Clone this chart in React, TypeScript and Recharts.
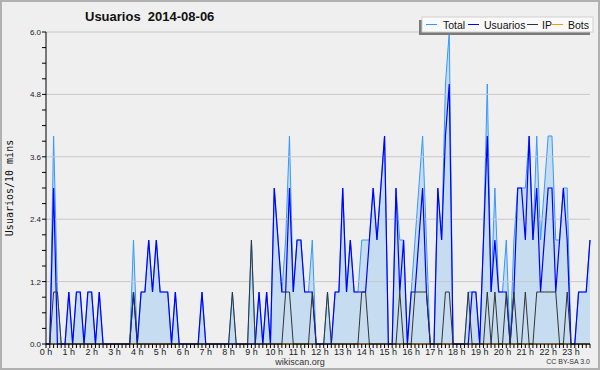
import React from 'react';
import { ComposedChart, Area, Line, XAxis, YAxis, ReferenceLine } from 'recharts';

// 10-minute slots, 144 per day
const usuarios = [
  0,0,3,0,0,0,1,0,1,1,0,1,
  1,0,1,0,0,0,0,0,0,0,0,1,
  0,1,1,2,1,2,1,1,1,0,1,0,
  0,0,0,0,0,1,0,0,0,0,0,0,
  0,0,0,0,0,0,0,0,1,0,1,0,
  3,2,1,1,3,1,2,2,1,1,1,0,
  0,0,0,0,1,1,3,1,2,1,1,1,
  1,2,3,2,3,4,0,0,3,1,2,0,
  1,1,2,3,1,0,0,3,2,4,5,0,
  0,0,0,0,1,1,0,2,4,1,2,1,
  1,1,0,1,3,3,2,4,2,3,1,2,
  3,3,1,2,3,2,0,0,1,1,1,2,
];

const ip = [
  0,0,1,1,0,0,0,0,0,0,0,0,
  0,0,0,0,0,0,0,0,0,0,0,1,
  0,0,0,0,0,0,0,0,0,0,0,0,
  0,0,0,0,0,0,0,0,0,0,0,0,
  0,1,0,0,0,0,2,0,0,0,0,0,
  0,0,0,1,1,0,0,0,0,0,1,0,
  0,0,1,0,0,0,0,0,0,0,0,1,
  1,0,0,0,0,0,0,0,0,1,0,0,
  0,1,1,1,1,0,0,0,0,1,1,0,
  0,0,0,1,0,0,0,0,1,0,1,0,
  0,1,0,1,0,0,1,0,0,1,1,1,
  1,1,1,0,0,1,0,0,0,0,0,0,
];

const total = [
  0,0,4,1,0,0,1,0,1,1,0,1,
  1,0,1,0,0,0,0,0,0,0,0,2,
  0,1,1,2,1,2,1,1,1,0,1,0,
  0,0,0,0,0,1,0,0,0,0,0,0,
  0,1,0,0,0,0,2,0,1,0,1,0,
  3,2,1,2,4,1,2,2,1,1,2,0,
  0,0,1,0,1,1,3,1,2,1,1,2,
  2,2,3,2,3,4,0,0,3,2,2,0,
  1,2,3,4,2,0,0,3,2,5,6,0,
  0,0,0,1,1,1,0,2,5,1,3,1,
  1,2,0,2,3,3,3,4,2,4,2,3,
  4,4,2,2,3,3,0,0,1,1,1,2,
];

const bots = [
  0,0,0,0,0,0,0,0,0,0,0,0,
  0,0,0,0,0,0,0,0,0,0,0,0,
  0,0,0,0,0,0,0,0,0,0,0,0,
  0,0,0,0,0,0,0,0,0,0,0,0,
  0,0,0,0,0,0,0,0,0,0,0,0,
  0,0,0,0,0,0,0,0,0,0,0,0,
  0,0,0,0,0,0,0,0,0,0,0,0,
  0,0,0,0,0,0,0,0,0,0,0,0,
  0,0,0,0,0,0,0,0,0,0,0,0,
  0,0,0,0,0,0,0,0,0,0,0,0,
  0,0,0,0,0,0,0,0,0,0,0,0,
  0,0,0,0,0,0,0,0,0,0,0,0,
];

const hourLabels = [
  '0 h','1 h','2 h','3 h','4 h','5 h','6 h','7 h','8 h','9 h','10 h','11 h',
  '12 h','13 h','14 h','15 h','16 h','17 h','18 h','19 h','20 h','21 h','22 h','23 h',
];

const yMajorLabels = ['0.0', '1.2', '2.4', '3.6', '4.8', '6.0'];
const yMajor = [0, 1.2, 2.4, 3.6, 4.8, 6.0];
const yMinor = [0, 0.3, 0.6, 0.9, 1.2, 1.5, 1.8, 2.1, 2.4, 2.7, 3.0, 3.3, 3.6, 3.9, 4.2, 4.5, 4.8, 5.1, 5.4, 5.7, 6.0];

const data = usuarios.map((u, i) => ({
  i,
  total: total[i],
  usuarios: u,
  ip: ip[i],
  bots: bots[i],
}));

const xTicks = data.map((d) => d.i);

const C_TOTAL = '#3399ff';
const C_USER = '#0000ff';
const C_IP = '#333333';
const C_BOTS = '#ff9900';
const FILL = '#c6dcf0';
const SANS = 'Liberation Sans';

const XTick = (props: any) => {
  const { x, y, payload } = props;
  const v = payload.value as number;
  const isHour = v % 6 === 0;
  return (
    <g>
      <line x1={x} x2={x} y1={y} y2={y + 4} stroke="#000" strokeWidth={1} />
      {isHour ? (
        <text x={x} y={y + 11} textAnchor="middle" fontSize={9} fontFamily={SANS} fill="#222">
          {hourLabels[v / 6]}
        </text>
      ) : null}
    </g>
  );
};

const YTick = (props: any) => {
  const { x, y, payload } = props;
  const v = payload.value as number;
  const idx = yMajor.findIndex((m) => Math.abs(m - v) < 1e-6);
  return (
    <g>
      <line x1={x - 4} x2={x} y1={y} y2={y} stroke="#000" strokeWidth={1} />
      {idx >= 0 ? (
        <text x={x - 5} y={y + 3} textAnchor="end" fontSize={8} fontFamily={SANS} fill="#222">
          {yMajorLabels[idx]}
        </text>
      ) : null}
    </g>
  );
};

const legendItems = [
  { name: 'Total', color: C_TOTAL, lx: 426, tx: 443 },
  { name: 'Usuarios', color: C_USER, lx: 468, tx: 484 },
  { name: 'IP', color: C_IP, lx: 527, tx: 542 },
  { name: 'Bots', color: C_BOTS, lx: 552, tx: 568 },
];

export default function App() {
  return (
    <div style={{ position: 'absolute', left: 0, top: 0, width: 600, height: 370, background: '#efefef' }}>
      <ComposedChart
        width={600}
        height={370}
        data={data}
        margin={{ top: 32, right: 10, left: 0, bottom: 0 }}
      >
        <XAxis
          dataKey="i"
          type="number"
          domain={[0, 143]}
          ticks={xTicks}
          interval={0}
          height={26}
          tickSize={0}
          tickMargin={0}
          tickLine={false}
          axisLine={{ stroke: '#000' }}
          tick={<XTick />}
        />
        <YAxis
          type="number"
          domain={[0, 6]}
          ticks={yMinor}
          interval={0}
          width={46}
          tickSize={0}
          tickMargin={0}
          tickLine={false}
          axisLine={{ stroke: '#000' }}
          tick={<YTick />}
          allowDecimals
        />
        <Area
          type="linear"
          dataKey="total"
          stroke={C_TOTAL}
          strokeWidth={1}
          fill={FILL}
          fillOpacity={1}
          dot={false}
          activeDot={false}
          isAnimationActive={false}
        />
        {yMajor.slice(1).map((v) => (
          <ReferenceLine key={v} y={v} stroke="#c8c8c8" strokeWidth={1} />
        ))}
        <Line type="linear" dataKey="bots" stroke={C_BOTS} strokeWidth={1} dot={false} activeDot={false} isAnimationActive={false} />
        <Line type="linear" dataKey="usuarios" stroke={C_USER} strokeWidth={1.2} dot={false} activeDot={false} isAnimationActive={false} />
        <Line type="linear" dataKey="ip" stroke={C_IP} strokeWidth={1} dot={false} activeDot={false} isAnimationActive={false} />
      </ComposedChart>
      <svg
        width={600}
        height={370}
        style={{ position: 'absolute', left: 0, top: 0, pointerEvents: 'none' }}
      >
        <rect x={1} y={1} width={598} height={368} fill="none" stroke="#b0b0b0" strokeWidth={2} />
        <text x={85} y={21} fontFamily={SANS} fontWeight="bold" fontSize={13} fill="#111" style={{ whiteSpace: 'pre' }}>
          {'Usuarios  2014-08-06'}
        </text>
        <text
          transform="translate(13,188) rotate(-90)"
          textAnchor="middle"
          fontFamily="DejaVu Sans Mono"
          fontSize={10}
          fill="#111"
        >
          Usuarios/10 mins
        </text>
        <rect x={419} y={20} width={171} height={15} fill="#7a7a7a" />
        <rect x={422} y={17} width={171} height={15} fill="#fafafa" stroke="#cfcfcf" strokeWidth={1} />
        {legendItems.map((it) => (
          <g key={it.name}>
            <line x1={it.lx} x2={it.lx + 11} y1={24.5} y2={24.5} stroke={it.color} strokeWidth={1} />
            <text x={it.tx} y={28.5} fontFamily={SANS} fontSize={10.5} fill="#111">
              {it.name}
            </text>
          </g>
        ))}
        <text x={300} y={365} textAnchor="middle" fontFamily={SANS} fontSize={9} fill="#333">
          wikiscan.org
        </text>
        <text x={590} y={364} textAnchor="end" fontFamily={SANS} fontSize={7} fill="#333">
          CC BY-SA 3.0
        </text>
      </svg>
    </div>
  );
}
